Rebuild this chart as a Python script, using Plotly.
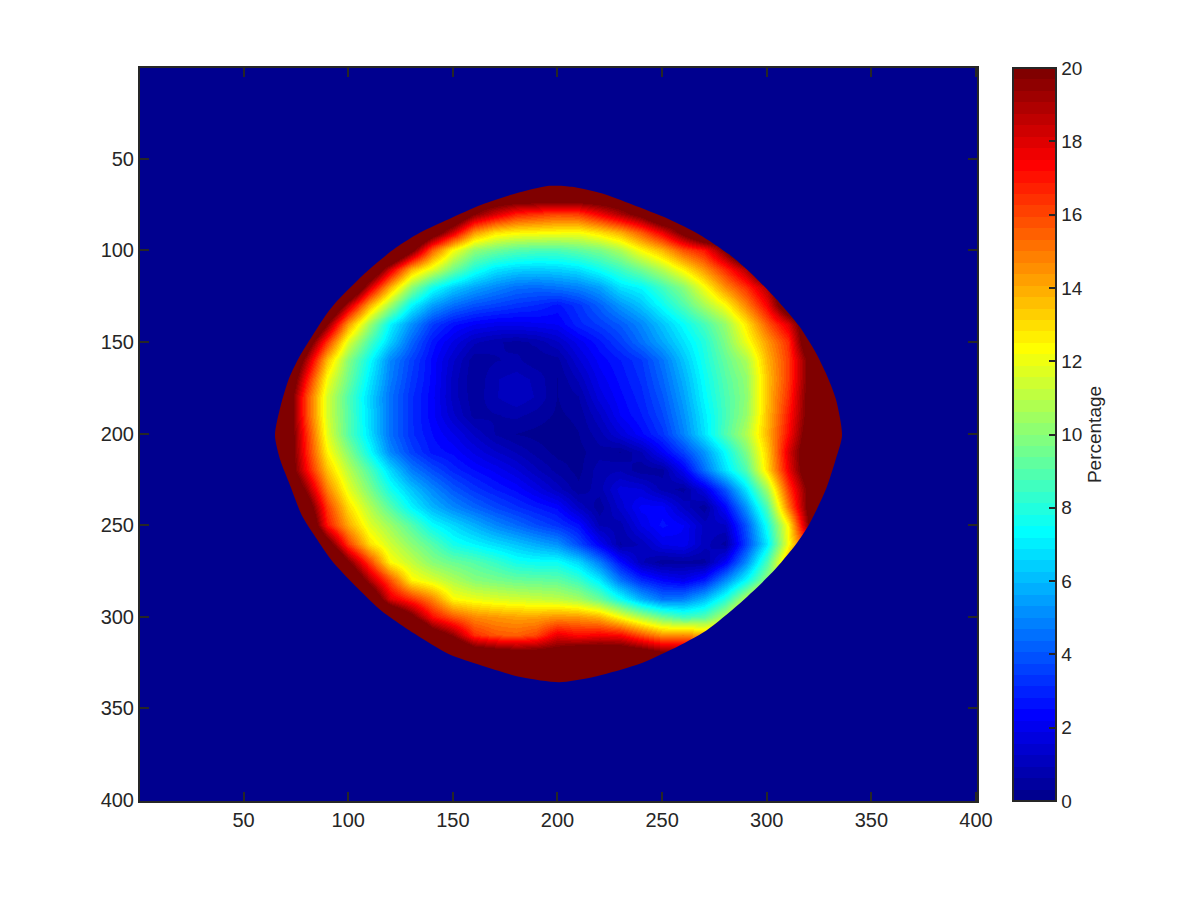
import plotly.graph_objects as go

# --- Data -------------------------------------------------------------------
x_grid = list(range(60, 341, 10))
y_grid = list(range(60, 341, 10))
F = 22  # saturated (beyond the top of the colour range)

z_rows = [
 [F]*29,
 [F]*29,
 [F]*9 + [23,19.8,18.2,16.8,16.4,16,16.2,17.5,19,20.5,23] + [F]*9,
 [F]*7 + [25,21.5,18.2,14.5,13,12.6,12.5,12.4,12.3,13,14,15.7,17.8,20.5,23.5] + [F]*7,
 [F]*6 + [25,20.5,15.5,12.3,10.2,9.5,9,8.8,8.8,9.2,9.7,10.7,12.4,13.8,15.8,17,20,24] + [F]*5,
 [F]*4 + [27,23,18.2,13.9,11.8,9.6,7.9,6.9,6.5,6.4,6.5,6.8,7.6,8.5,9.6,10.9,12.6,14.5,16.6,19,23] + [F]*4,
 [F]*4 + [24,18.4,13.9,10.2,7.7,6.4,5.6,5.0,4.5,4.4,4.6,4.9,5.5,6.8,7.3,8.6,10,12.2,14.6,16.5,19,23] + [F]*3,
 [F]*3 + [24,18.7,14,10.5,7.3,5.5,4.5,3.9,3.6,3.3,3.1,2.7,3.3,4.2,5.3,6.2,7.5,8.9,10.6,12.3,14.8,17.5,22] + [F]*3,
 [F,F,25,19.8,14.3,10.5,7.2,5.2,3.5,2.6,2.2,2,2,2.1,2.2,3,3.5,4.1,5,6.2,7.4,8.7,10.3,12.8,15.6,18,F,F,F],
 [F,F,21.5,16.3,11.7,8.8,6.4,4.3,2.7,1.8,1,.7,.5,.7,1.2,2,2.7,3.5,4.5,5.6,6.8,8,9.8,12,14.3,16.5,22,F,F],
 [F,24,19,13.6,10,7.5,5,3.6,2.4,1.3,.4,.6,.7,.4,.5,1.5,2.3,2.8,3.4,4.6,6.2,7.8,9.3,10.7,13.8,16.2,20.3,F,F],
 [F,23,17.2,12.2,9.5,7,4.8,3.4,2.4,1.1,.35,.9,1.1,.85,.3,1,2,2.6,3.2,4.3,5.8,7.5,9,10.2,13.5,16.2,20.3,F,F],
 [F,22,16,11.5,8.9,6.6,4.5,3.2,2.3,1.1,.4,.9,1.2,.9,.3,.6,1.7,2.4,3,4,5.5,7.3,8.8,10.1,13.6,16.5,20.5,F,F],
 [F,22,16,11.5,9,6.7,4.5,3.2,2.3,1.3,.5,.6,.7,.5,.25,.4,1.2,2.2,2.8,3.7,5.2,7,8.7,10.3,13.6,16.9,20.5,F,F],
 [F,22,16.6,11.8,9,6.8,4.5,3.2,2.5,1.9,1.2,.6,.3,.2,.1,.3,.8,1.6,2.4,3.3,4.9,6.8,8.9,10.8,13.8,17.2,21,F,F],
 [F,22,16.8,12.5,10,7.5,5,3.6,2.7,2.4,1.8,1.3,.9,.5,.2,.2,.5,.3,.9,2.2,3.6,5.3,7.4,9.8,13.3,18,21.5,F,F],
 [F,22,17.4,13.5,11,8.9,6.6,4.8,3.8,3,2.5,2.1,1.6,1,.5,.2,.8,.9,.4,.5,2.1,4.5,6.8,8.9,13,17.6,21.5,F,F],
 [F,23.5,19.4,14.8,11.9,9.8,7.7,6.2,5,4,3.3,2.8,2.4,1.8,1.1,.4,.8,1.7,1.6,.8,.5,1.8,4,6.9,10.6,16.2,20.4,F,F],
 [F,26,21.5,16.2,13,10.9,9,7.2,5.9,5,4.3,3.7,3.2,2.8,2.4,1.2,.4,1.4,2.3,2.3,1.2,.4,2.4,5.3,8.9,15,20.6,F,F],
 [F,F,23,17,14,11.8,10.4,9,7.4,6.6,5.8,5,4.4,3.8,3.3,2.6,.9,.8,1.9,2.6,2.2,1.1,1.2,4,7.7,12.5,20,F,F],
 [F,F,26,21,16.2,13,11.4,10.1,9,7.7,7.2,6.7,6.2,5.7,5.2,3.8,2.2,.6,1,1.9,2.1,1.1,.5,3.6,7,12.2,17,F,F],
 [F,F,F,25,20,16.2,12.4,11.2,10,9.4,9,8.4,7.7,7.5,7.5,6.6,4.8,2.6,1,.4,.5,.5,2.2,5.1,8.8,14,20,F,F],
 [F,F,F,28,23,19,15.8,12.5,11.7,10.8,10,9.7,9.4,9.3,9.2,8.5,7,4.6,3.1,2.4,2,2.8,5,7.4,10.3,13,F,F,F],
 [F,F,F,F,27,22.5,18,16.5,14.8,12.4,12,11.7,11.5,11.3,11.1,10.6,9.4,7.6,5.8,4.6,4.8,6,8,11,14,16,F,F,F],
 [F]*5 + [28,23.5,20.5,17.2,15.7,14.7,14.4,14.2,14.2,14.5,14.4,13.9,12.3,10.8,9.5,8.6,9,11,14,16] + [F]*4,
 [F]*7 + [26,21.5,19.5,16.5,15.7,15.5,16,17.8,17.2,17.5,17.3,15.8,14.5,14.7,14,14] + [F]*6,
 [F]*9 + [24,F,21.5,21,21,21,F,F,F,21.5,20.5,20,20] + [F]*7,
 [F]*29,
 [F]*29,
]

# edge of the measured disc, walked clockwise from its upper-left shoulder
edge_x = [110,122.7,134,148,164,180,196,
          207,221.5,235.7,253.3,267.7,282,293,306,315.5,323.4,328.2,333,336,
          333,328.3,320.3,314,302.7,286.8,271,255,239,216.7,200.8,
          183,164,148,132,116,104.2,92.3,84.5,78,71.7,67.7,65,
          67.7,71.7,76.5,82.8,90.8,100.4,110]
edge_y = [110.4,98.6,90.5,83,75,69,64.8,
          65.3,69,75,83,91.3,102.2,113,128.4,141.3,155.7,166.8,181,201,
          214,230.4,249.5,260.4,275.7,293,307.6,317.6,325.8,333,335.7,
          333,326.7,320.3,309.4,296.8,284,269.5,256.7,245,226.7,215,201,
          185,170,158.5,146.8,133,120.4,110.4]

x_ticks = [50,100,150,200,250,300,350,400]
y_ticks = [50,100,150,200,250,300,350,400]
bar_ticks = list(range(0, 21, 2))
bar_title = "Percentage"

# --- Styling ----------------------------------------------------------------
INK = "#262626"
FONT = "Liberation Sans, Helvetica, Arial, sans-serif"
LEVELS = 64

def jet_rgb(i):
    t = (i + 1) / LEVELS
    r = max(0.0, min(1.0, min(4*t - 1.5, -4*t + 4.5)))
    g = max(0.0, min(1.0, min(4*t - 0.5, -4*t + 3.5)))
    b = max(0.0, min(1.0, min(4*t + 0.5, -4*t + 2.5)))
    return "rgb(%d,%d,%d)" % (round(r*255), round(g*255), round(b*255))

colorscale = []
for i in range(LEVELS):
    colorscale.append([i/LEVELS, jet_rgb(i)])
    colorscale.append([(i+1)/LEVELS, jet_rgb(i)])
NAVY = jet_rgb(0)

LO, HI = 0.5, 400.5
# Frame runs anticlockwise, the edge clockwise, so the disc stays open.  The
# way in from the frame meets the edge along its tangent, and the closing
# segment runs straight back along that same line.
ENTRY_Y = 219.5
mask_x = [LO, LO, HI, HI, LO, LO] + edge_x
mask_y = [ENTRY_Y, HI, HI, LO, LO, ENTRY_Y] + edge_y

for row in z_rows:
    assert len(row) == len(x_grid)

fig = go.Figure()
fig.add_trace(go.Heatmap(
    x=x_grid, y=y_grid, z=z_rows, zmin=0, zmax=20, zsmooth="best",
    colorscale=colorscale, hoverinfo="skip",
    colorbar=dict(
        x=(1013-140)/837, xanchor="left", xpad=0, y=0.5, yanchor="middle",
        ypad=0, len=1, lenmode="fraction", thickness=43, thicknessmode="pixels",
        outlinewidth=2, outlinecolor=INK, tickmode="array",
        tickvals=bar_ticks, ticks="inside", ticklen=8, tickwidth=2,
        tickcolor=INK, tickprefix="\u00a0",
        tickfont=dict(family=FONT, size=19, color=INK),
        title=dict(text=bar_title, side="right",
                   font=dict(family=FONT, size=19, color=INK)),
    ),
))
fig.add_trace(go.Scatter(
    x=mask_x, y=mask_y, mode="lines", fill="toself", fillcolor=NAVY,
    line=dict(width=0, color=NAVY, shape="spline", smoothing=0.7),
    hoverinfo="skip", showlegend=False,
))

axis = dict(
    showgrid=False, zeroline=False, showline=True, linecolor=INK, linewidth=2,
    mirror="ticks", ticks="inside", ticklen=9, tickwidth=2, tickcolor=INK,
    tickfont=dict(family=FONT, size=20, color=INK), range=[LO, HI],
)
fig.update_layout(
    width=1200, height=900, paper_bgcolor="white", plot_bgcolor=NAVY,
    margin=dict(l=132, r=231, t=60, b=107, autoexpand=False),
    showlegend=False,
    xaxis=dict(axis, tickmode="array", tickvals=x_ticks),
    yaxis=dict(axis, tickmode="array", tickvals=y_ticks,
               range=[HI, LO]),
)
fig.write_html("out.html")
